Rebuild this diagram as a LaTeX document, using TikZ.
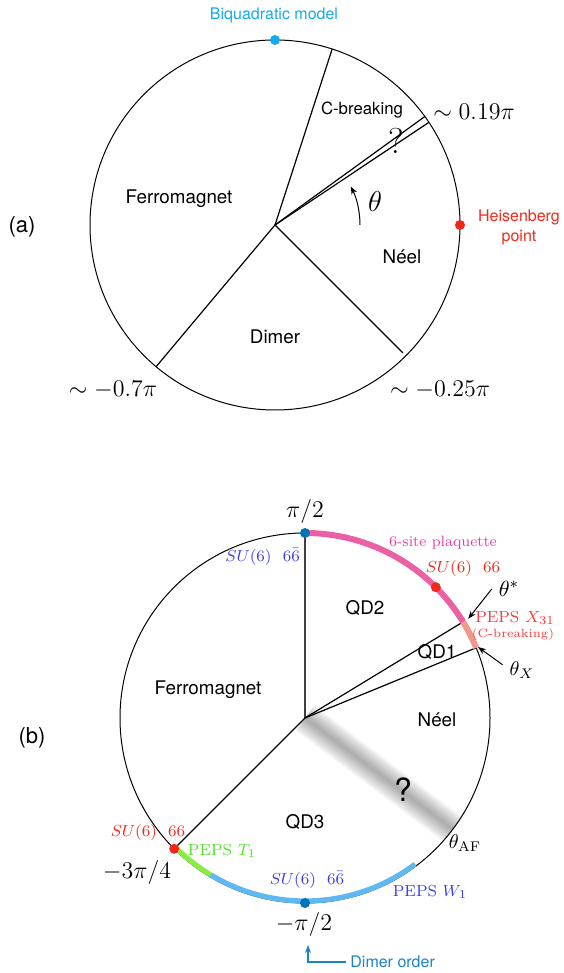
\documentclass[tikz,border=0pt]{standalone}
\usepackage{amsmath}
\usepackage{fontspec}
\setsansfont{TeX Gyre Heros}
\usetikzlibrary{arrows.meta}
\definecolor{biqcyan}{RGB}{20,170,240}
\definecolor{heisred}{RGB}{240,40,25}
\definecolor{plaqpink}{RGB}{235,95,165}
\definecolor{plaqtext}{RGB}{230,60,170}
\definecolor{xsalmon}{RGB}{245,150,140}
\definecolor{xtext}{RGB}{240,60,60}
\definecolor{tgreen}{RGB}{140,235,70}
\definecolor{ttext}{RGB}{80,225,40}
\definecolor{wblue}{RGB}{95,185,240}
\definecolor{wtext}{RGB}{60,60,235}
\definecolor{dotblue}{RGB}{0,115,185}
\definecolor{dimtext}{RGB}{30,130,200}

\begin{document}
\begin{tikzpicture}[x=0.5pt, y=0.5pt, >={Stealth[length=4pt,width=3pt]},
  region/.style={font=\sffamily\fontsize{9.4}{11}\selectfont},
  tag/.style={font=\sffamily\fontsize{11}{13}\selectfont},
  small/.style={font=\sffamily\fontsize{8}{10}\selectfont},
  mlabel/.style={font=\fontsize{12}{14}\selectfont},
  slabel/.style={font=\fontsize{8}{10}\selectfont},
  spoke/.style={line width=0.6pt},
  rim/.style={line width=0.5pt},
  dot/.style={circle, inner sep=0pt, minimum size=5pt}]
  \useasboundingbox (0,0) rectangle (563,973);

  % (a) phase circle
  \node[tag] (taga) at (22,746) {(a)};
  \begin{scope}[shift={(275,748)}]
    \coordinate (oa) at (0,0);
    \draw[rim] (oa) circle (185);
    \draw[spoke] (oa) -- (72:185);
    \draw[spoke] (oa) -- (33.7:185);
    \draw[spoke] (oa) -- (35.9:185);
    \draw[spoke] (oa) -- (-130:185);
    \draw[spoke] (oa) -- (-45:181);
    \node[dot, fill=biqcyan] (biq) at (90:185) {};
    \node[dot, fill=heisred] (heisdot) at (0:185) {};
    \node[small, text=biqcyan] (biqlab) at (-1,210) {Biquadratic model};
    \node[font=\sffamily\fontsize{8.4}{10}\selectfont] (cbrk) at (87,115) {C-breaking};
    \node[mlabel, anchor=west, inner sep=0pt] (simup) at (158,113) {$\sim 0.19\pi$};
    \node[font=\fontsize{18}{20}\selectfont] (qmarka) at (121,84) {?};
    \node[font=\fontsize{14}{16}\selectfont] (theta) at (100,23) {$\theta$};
    \draw[->, rim] (85,0) arc (0:27:85);
    \node[region] (ferroa) at (-96,26) {Ferromagnet};
    \node[region] (neela) at (127,-32) {Néel};
    \node[region] (dimera) at (0,-112) {Dimer};
    \node[small, text=heisred, align=center] (heis) at (244,-2) {Heisenberg\\point};
    \node[mlabel] (simleft) at (-162,-165) {$\sim -0.7\pi$};
    \node[mlabel] (simright) at (165,-165) {$\sim -0.25\pi$};
  \end{scope}

  % (b) phase circle
  \node[tag] (tagb) at (32,235) {(b)};
  \begin{scope}[shift={(305,255)}]
    \coordinate (ob) at (0,0);
    \coordinate (afend) at (-37:185);
    % fuzzy band towards theta_AF
    \foreach \w in {16,15,...,1}
      \draw[line width=\w pt, black, opacity=0.022] (ob) -- (afend);
    \draw[rim] (ob) circle (185);
    \draw[spoke, black!75] (ob) -- (90:185);
    \draw[spoke] (ob) -- (31.3:185);
    \draw[spoke] (ob) -- (22.3:185);
    \draw[spoke] (ob) -- (-135:185);
    \draw[plaqpink, line width=3pt] (90:185) arc (90:31.3:185);
    \draw[xsalmon, line width=3pt] (31.3:185) arc (31.3:22.3:185);
    \draw[tgreen, line width=2.6pt] (-135:183) arc (-135:-121:183);
    \draw[wblue, line width=2.6pt] (-121:183) arc (-121:-53:183);
    \node[dot, fill=dotblue] (toppt) at (90:185) {};
    \node[dot, fill=heisred] (su66pt) at (45:185) {};
    \node[dot, fill=heisred] (leftpt) at (-135:185) {};
    \node[dot, fill=dotblue] (botpt) at (-90:185) {};
    \node[mlabel] (pihalf) at (0,206) {$\pi/2$};
    \node[font=\fontsize{7.5}{9}\selectfont, text=plaqtext] (plaq) at (138,175) {6-site plaquette};
    \node[slabel, text=heisred] (sutop) at (158,149) {$SU(6)\ \ 66$};
    \node[font=\fontsize{11}{13}\selectfont] (thstar) at (204,129) {$\theta^*$};
    \coordinate (thstarend) at (31.3:191);
    \draw[->, rim] (thstar.west) -- (thstarend);
    \node[slabel, text=xtext] (pepsx) at (210,100) {PEPS $X_{31}$};
    \node[font=\fontsize{6}{7}\selectfont, text=xtext] (cbrkb) at (208,83) {(C-breaking)};
    \node[font=\fontsize{10}{12}\selectfont] (thx) at (217,48) {$\theta_X$};
    \coordinate (thxend) at (22.3:187);
    \draw[->, rim] (thx.165) -- (thxend);
    \node[region] (qdtwo) at (60,110) {QD2};
    \node[region] (qdone) at (132,66) {QD1};
    \node[slabel, text=wtext, anchor=east] (subartop) at (2,161) {$SU(6)\ \ 6\bar{6}$};
    \node[region] (ferrob) at (-97,28) {Ferromagnet};
    \node[region] (neelb) at (132,-2) {Néel};
    \node[font=\sffamily\fontsize{16}{18}\selectfont] (qmarkb) at (98,-72) {?};
    \node[region] (qdthree) at (0,-104) {QD3};
    \node[font=\fontsize{10}{12}\selectfont] (thaf) at (160,-125) {$\theta_{\mathrm{AF}}$};
    \node[slabel, text=heisred] (suleft) at (-157,-115) {$SU(6)\ \ 66$};
    \node[slabel, text=ttext] (pepst) at (-83,-133) {PEPS $T_1$};
    \node[mlabel] (mthreeq) at (-168,-155) {$-3\pi/4$};
    \node[slabel, text=wtext] (subarbot) at (2,-162) {$SU(6)\ \ 6\bar{6}$};
    \node[slabel, text=wtext] (pepsw) at (125,-174) {PEPS $W_1$};
    \node[mlabel] (mpihalf) at (-1,-207) {$-\pi/2$};
    \node[small, text=dimtext, anchor=west, inner sep=2pt] (dimord) at (41,-244) {Dimer order};
    \coordinate (dimtip) at (3,-227);
    \draw[->, dimtext, line width=0.6pt] (dimord.west) -| (dimtip);
  \end{scope}
\end{tikzpicture}
\end{document}
